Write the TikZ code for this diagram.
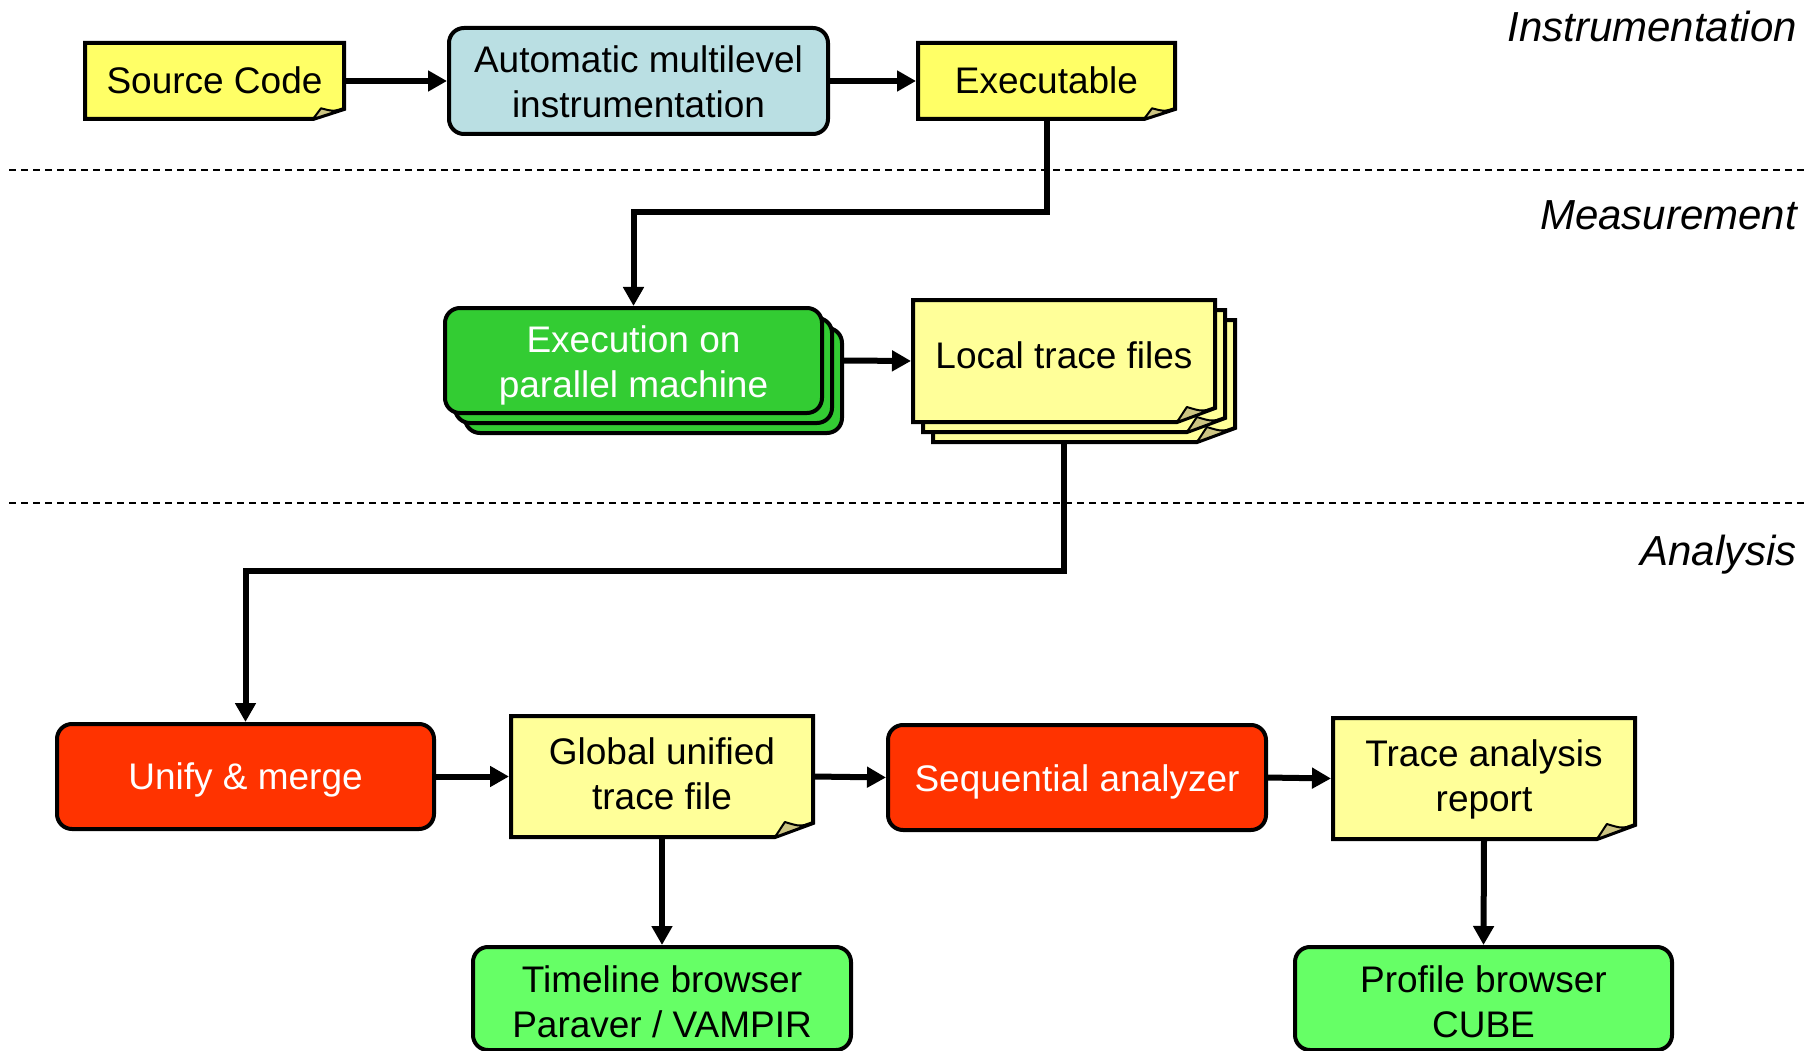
\documentclass[tikz,border=0pt]{standalone}
\usepackage{fontspec}
\setmainfont{Liberation Sans}
\usetikzlibrary{arrows.meta,backgrounds,calc}

\definecolor{srcyellow}{HTML}{FFFF66}
\definecolor{docyellow}{HTML}{FFFF99}
\definecolor{foldtan}{HTML}{CCC482}
\definecolor{instblue}{HTML}{BADFE3}
\definecolor{execgreen}{HTML}{33CC33}
\definecolor{toolred}{HTML}{FF3300}
\definecolor{browsergreen}{HTML}{66FF66}

\newcommand\diagboxfont{\fontsize{37}{45}\selectfont}
\newcommand\diagphasefont{\fontsize{42}{48}\selectfont\itshape}
% two centred lines whose reference point is the baseline of the first line
\newcommand\twolines[2]{\begin{tabular}[t]{@{}c@{}}#1\\#2\end{tabular}}

% Document page with a curled bottom-right corner: node name, fill, fold width, fold height
\newcommand\docpage[4]{%
  \filldraw[fill=#2, draw=black, line width=4pt, line join=miter]
    (#1.north west) -- (#1.north east) -- ([yshift=#4pt]#1.south east)
    -- ([xshift=-#3pt]#1.south east) -- (#1.south west) -- cycle;
  \filldraw[fill=foldtan, draw=black, line width=2pt, line join=round]
    ([xshift=-#3pt]#1.south east) -- ([xshift=-0.74*#3pt, yshift=1.07*#4pt]#1.south east)
    .. controls ([xshift=-0.35*#3pt, yshift=0.75*#4pt]#1.south east) .. ([yshift=#4pt]#1.south east) -- cycle;}

\begin{document}
\begin{tikzpicture}[x=1pt,y=-1pt,
  frame/.style={inner sep=0pt, outer sep=0pt},
  box/.style={frame, draw=black, line width=4pt, rounded corners=15pt},
  docnode/.style={frame},
  lbl/.style={font=\diagboxfont, inner sep=0pt, anchor=base},
  arr/.style={line width=6pt, shorten >=2pt, -{Triangle[length=19pt,width=20pt]}},
  sep/.style={line width=1.5pt, dash pattern=on 7pt off 5pt},
  phase/.style={font=\diagphasefont, anchor=base east, inner sep=0pt}]

\useasboundingbox (0,0) rectangle (1808,1051);
\clip (0,0) rectangle (1808,1051);

% phase separators and labels
\draw[sep] (9,170) -- (1808,170);
\draw[sep] (9,503) -- (1808,503);
\node[phase] (lblI) at (1797,42) {Instrumentation};
\node[phase] (lblM) at (1797,230) {Measurement};
\node[phase] (lblA) at (1797,565) {Analysis};

% instrumentation
\node[docnode, minimum width=259pt, minimum height=76pt] (src) at (214.5,81) {};
\node[box, fill=instblue, minimum width=379pt, minimum height=106pt] (auto) at (638.5,81) {};
\node[docnode, minimum width=257pt, minimum height=76pt] (exe) at (1046.5,81) {};

% measurement
\node[box, fill=execgreen, minimum width=377pt, minimum height=105pt] (exec3) at (653.5,380.5) {};
\node[box, fill=execgreen, minimum width=377pt, minimum height=105pt] (exec2) at (643.5,370.5) {};
\node[box, fill=execgreen, minimum width=377pt, minimum height=105pt] (exec) at (633.5,360.5) {};
\node[docnode, minimum width=302pt, minimum height=122pt] (local3) at (1084,381) {};
\node[docnode, minimum width=302pt, minimum height=122pt] (local2) at (1074,371) {};
\node[docnode, minimum width=302pt, minimum height=122pt] (local) at (1064,361) {};

% analysis
\node[box, fill=toolred, minimum width=377pt, minimum height=105pt] (unify) at (245.5,776.5) {};
\node[docnode, minimum width=302pt, minimum height=121pt] (global) at (662,776.5) {};
\node[box, fill=toolred, minimum width=378pt, minimum height=105pt] (seq) at (1077,777.5) {};
\node[docnode, minimum width=302pt, minimum height=121pt] (tar) at (1484,778.5) {};
\node[box, fill=browsergreen, minimum width=378pt, minimum height=103pt] (timeline) at (662,998.5) {};
\node[box, fill=browsergreen, minimum width=377pt, minimum height=103pt] (profile) at (1483.5,998.5) {};

% page shapes behind the document nodes
\begin{scope}[on background layer]
  \docpage{src}{srcyellow}{31}{10}
  \docpage{exe}{srcyellow}{31}{10}
  \docpage{local3}{docyellow}{38}{14}
  \docpage{local2}{docyellow}{38}{14}
  \docpage{local}{docyellow}{38}{14}
  \docpage{global}{docyellow}{38}{14}
  \docpage{tar}{docyellow}{38}{14}
\end{scope}

% box texts, placed on the baseline of their first line
\node[lbl] (srcT) at ($(src.center)+(0,12.3)$) {Source Code};
\node[lbl] (autoT) at ($(auto.center)+(0,-8)$) {\twolines{Automatic multilevel}{instrumentation}};
\node[lbl] (exeT) at ($(exe.center)+(0,12.3)$) {Executable};
\node[lbl, text=white] (execT) at ($(exec.center)+(0,-8.5)$) {\twolines{Execution on}{parallel machine}};
\node[lbl] (localT) at ($(local.center)+(0,7)$) {Local trace files};
\node[lbl, text=white] (unifyT) at ($(unify.center)+(0,12.7)$) {Unify \& merge};
\node[lbl] (globalT) at ($(global.center)+(0,-12.5)$) {\twolines{Global unified}{trace file}};
\node[lbl, text=white] (seqT) at ($(seq.center)+(0,13.5)$) {Sequential analyzer};
\node[lbl] (tarT) at ($(tar.center)+(0,-12.5)$) {\twolines{Trace analysis}{report}};
\node[lbl] (timelineT) at ($(timeline.center)+(0,-6.5)$) {\twolines{Timeline browser}{Paraver / VAMPIR}};
\node[lbl] (profileT) at ($(profile.center)+(0,-6.5)$) {\twolines{Profile browser}{CUBE}};

% connectors
\coordinate (bendA) at (0,212);
\coordinate (bendB) at (0,571);
\draw[arr] (src.east) -- (auto.west);
\draw[arr] (auto.east) -- (exe.west);
\draw[arr] (exe.south) -- (exe.south |- bendA) -- (exec.north |- bendA) -- (exec.north);
\draw[arr] (exec.east -| exec3.east) -- (local.west);
\draw[arr] (local.south |- local3.south) -- (local.south |- bendB) -- (unify.north |- bendB) -- (unify.north);
\draw[arr] (unify.east) -- (global.west);
\draw[arr] (global.east) -- (seq.west);
\draw[arr] (seq.east) -- (tar.west);
\draw[arr] (global.south) -- (timeline.north);
\draw[arr] (tar.south) -- (profile.north);
\end{tikzpicture}
\end{document}
